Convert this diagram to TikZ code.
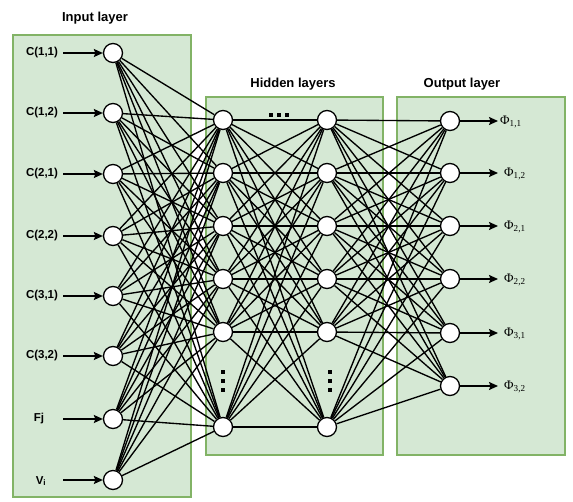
\documentclass[tikz,border=0pt]{standalone}
\usepackage{fontspec}
\setmainfont{Liberation Serif}
\newfontfamily\labsans{Liberation Sans}
\usetikzlibrary{arrows.meta}
\definecolor{boxfill}{HTML}{D5E8D4}
\definecolor{boxline}{HTML}{82B366}
\tikzset{
  layerbox/.style={draw=boxline, fill=boxfill, line width=1.4pt},
  neuron/.style={circle, draw=black, fill=white, line width=1.3pt, minimum size=19pt, inner sep=0pt},
  conn/.style={black, line width=1.35pt},
  inarrow/.style={black, line width=1.5pt, -{Stealth[length=9pt,width=8pt,inset=1.5pt]}},
  inlabel/.style={font=\labsans\bfseries\fontsize{11.5}{11.5}\selectfont, inner sep=0pt},
  outlabel/.style={font=\fontsize{13}{13}\selectfont, inner sep=0pt, anchor=west},
  title/.style={font=\labsans\bfseries\fontsize{13}{13}\selectfont, inner sep=0pt},
  dotsq/.style={fill=black}
}
\begin{document}
\begin{tikzpicture}[x=1pt,y=-1pt]
\useasboundingbox (0,0) rectangle (573,501);
% layer boxes
\draw[layerbox] (13,35) rectangle (191,497);
\draw[layerbox] (206,97) rectangle (383,455);
\draw[layerbox] (397,97) rectangle (565,455);
% titles
\node[title] (tin) at (95,18) {Input layer};
\node[title] (thid) at (293,84) {Hidden layers};
\node[title] (tout) at (462,84) {Output layer};
% input nodes
\foreach \i/\y in {1/53,2/113,3/174,4/236,5/296,6/356,7/419,8/480}{
  \node[neuron] (in\i) at (113,\y) {};
  \coordinate (is\i) at (63,\y);
}
% hidden nodes
\foreach \i/\y in {1/120,2/173,3/226,4/279,5/332,6/427}{
  \node[neuron] (ha\i) at (223,\y) {};
  \node[neuron] (hb\i) at (327,\y) {};
}
% output nodes
\foreach \i/\y in {1/121,2/173,3/226,4/279,5/333,6/386}{
  \node[neuron] (out\i) at (450,\y) {};
  \coordinate (oe\i) at (498,\y);
}
% connections
\foreach \i in {1,...,8}{
  \foreach \j in {1,...,6}{
    \draw[conn] (in\i) -- (ha\j);
  }
}
\foreach \i in {1,...,6}{
  \foreach \j in {1,...,6}{
    \draw[conn] (ha\i) -- (hb\j);
    \draw[conn] (hb\i) -- (out\j);
  }
}
% input labels and arrows
\node[inlabel] (l1) at (42,53) {C(1,1)};
\node[inlabel] (l2) at (42,113) {C(1,2)};
\node[inlabel] (l3) at (42,174) {C(2,1)};
\node[inlabel] (l4) at (42,236) {C(2,2)};
\node[inlabel] (l5) at (42,296) {C(3,1)};
\node[inlabel] (l6) at (42,356) {C(3,2)};
\node[inlabel] (l7) at (39,419) {Fj};
\node[inlabel] (l8) at (41,481) {V\textsubscript{i}};
\foreach \i in {1,...,8}{
  \draw[inarrow] (is\i) -- (in\i);
}
% output arrows and labels
\foreach \i in {1,...,6}{
  \draw[inarrow] (out\i) -- (oe\i);
}
\node[outlabel] (o1) at (500,122) {Φ\textsubscript{1,1}};
\node[outlabel] (o2) at (504,174) {Φ\textsubscript{1,2}};
\node[outlabel] (o3) at (504,227) {Φ\textsubscript{2,1}};
\node[outlabel] (o4) at (504,280) {Φ\textsubscript{2,2}};
\node[outlabel] (o5) at (504,334) {Φ\textsubscript{3,1}};
\node[outlabel] (o6) at (504,387) {Φ\textsubscript{3,2}};
% ellipsis marks
\foreach \x in {271,279,287}{
  \fill[dotsq] (\x-2,113) rectangle (\x+2,117);
}
\foreach \y in {372,381,390}{
  \fill[dotsq] (221.2,\y-1.8) rectangle (224.8,\y+1.8);
  \fill[dotsq] (328.2,\y-1.8) rectangle (331.8,\y+1.8);
}
\end{tikzpicture}
\end{document}
